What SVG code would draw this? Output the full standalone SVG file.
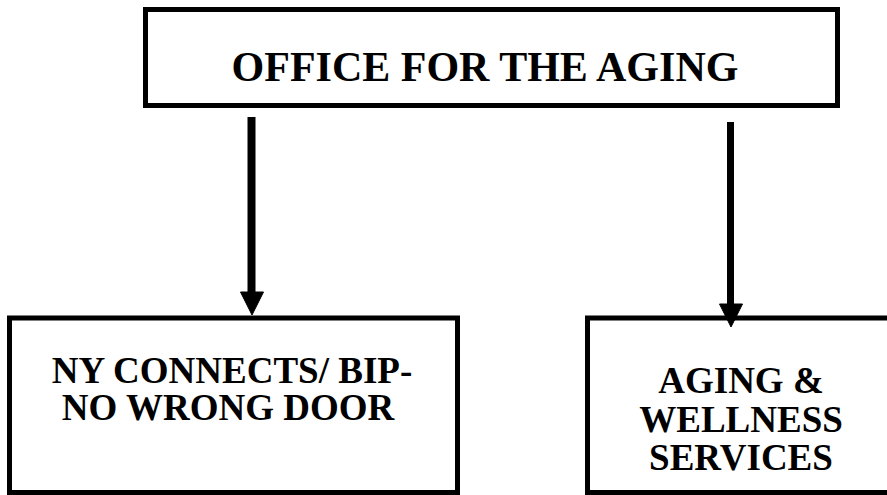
<svg xmlns="http://www.w3.org/2000/svg" width="887" height="495" viewBox="0 0 887 495">
<defs>
<polygon id="head" points="-11.5,0 11.5,0 0,23" fill="#000"/>
</defs>
<rect width="887" height="495" fill="#fff"/>
<g id="office">
<rect x="145.5" y="9.5" width="692" height="96" fill="#fff" stroke="#000" stroke-width="5"/>
<text x="485" y="81" font-size="42" font-family="Liberation Serif" font-weight="bold" text-anchor="middle">OFFICE FOR THE AGING</text>
</g>
<g id="nyconnects">
<rect x="9.5" y="318" width="448" height="174.5" fill="#fff" stroke="#000" stroke-width="5"/>
<text x="232" y="383" font-size="37" font-family="Liberation Serif" font-weight="bold" text-anchor="middle">NY CONNECTS/ BIP-</text>
<text x="228" y="420" font-size="37" font-family="Liberation Serif" font-weight="bold" text-anchor="middle">NO WRONG DOOR</text>
</g>
<g id="wellness">
<rect x="587.5" y="318" width="305" height="174.5" fill="#fff" stroke="#000" stroke-width="5"/>
<text x="741" y="393" font-size="37" font-family="Liberation Serif" font-weight="bold" text-anchor="middle">AGING &amp;</text>
<text x="741" y="432" font-size="37" font-family="Liberation Serif" font-weight="bold" text-anchor="middle">WELLNESS</text>
<text x="741" y="470" font-size="37" font-family="Liberation Serif" font-weight="bold" text-anchor="middle">SERVICES</text>
</g>
<g id="connectors" stroke="#000" fill="none">
<line x1="251.5" y1="117" x2="251.5" y2="294" stroke-width="8"/>
<use href="#head" x="252" y="292"/>
<line x1="730.5" y1="122" x2="730.5" y2="305" stroke-width="7"/>
<use href="#head" x="731" y="304"/>
</g>
</svg>
